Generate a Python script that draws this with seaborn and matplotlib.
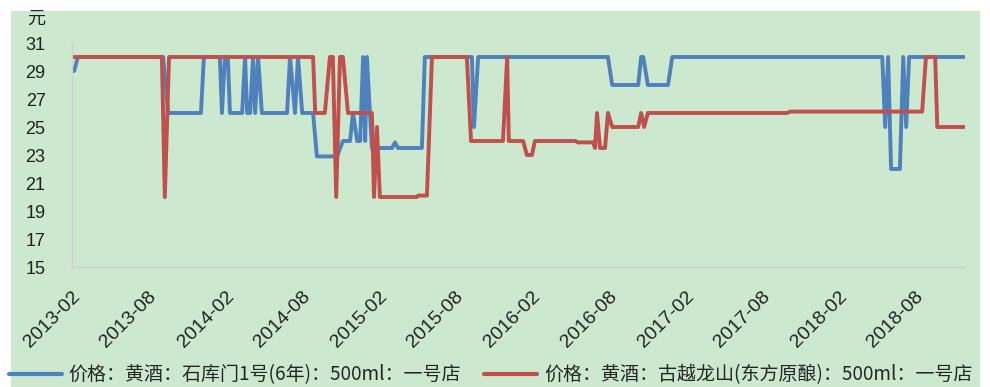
import matplotlib
matplotlib.use("Agg")
import matplotlib.pyplot as plt
import matplotlib.dates as mdates
from matplotlib.patches import Rectangle
from matplotlib.lines import Line2D
import pandas as pd
import seaborn as sns

# ---- data ----
blue_dates = ["2013-02-01", "2013-02-06", "2013-02-15", "2013-09-06", "2013-09-18", "2013-12-05",
              "2013-12-12", "2014-01-19", "2014-01-24", "2014-01-31", "2014-02-07", "2014-02-12",
              "2014-03-13", "2014-03-20", "2014-03-25", "2014-04-01", "2014-04-08", "2014-04-13",
              "2014-04-20", "2014-04-29", "2014-06-28", "2014-07-05", "2014-07-17", "2014-07-24",
              "2014-08-03", "2014-08-29", "2014-09-07", "2014-10-25", "2014-11-08", "2014-11-25",
              "2014-12-02", "2014-12-12", "2014-12-19", "2014-12-26", "2014-12-31", "2015-01-04",
              "2015-01-16", "2015-03-05", "2015-03-12", "2015-03-19", "2015-05-15", "2015-05-22",
              "2015-09-11", "2015-09-16", "2015-09-26", "2016-07-31", "2016-08-10", "2016-10-11",
              "2016-10-18", "2016-10-23", "2016-11-03", "2016-12-21", "2016-12-31", "2018-05-15",
              "2018-05-22", "2018-05-29", "2018-06-05", "2018-06-26", "2018-07-04", "2018-07-11",
              "2018-07-18", "2018-11-26"]
blue_values = [29, 29, 30, 30, 26, 26,
               30, 30, 26, 30, 30, 26,
               26, 30, 26, 26, 30, 26,
               30, 26, 26, 30, 26, 30,
               26, 26, 22.9, 22.9, 24, 24,
               26, 24, 24, 30, 24, 30,
               23.5, 23.5, 23.9, 23.5, 23.5, 30,
               30, 25, 30, 30, 28, 28,
               30, 30, 28, 28, 30, 30,
               25, 30, 22, 22, 30, 25,
               30, 30]

red_dates = ["2013-02-01", "2013-09-03", "2013-09-10", "2013-09-20", "2014-08-29", "2014-09-03",
             "2014-09-26", "2014-10-08", "2014-10-15", "2014-10-23", "2014-11-01", "2014-11-08",
             "2014-11-20", "2015-01-16", "2015-01-21", "2015-01-28", "2015-02-04", "2015-04-05",
             "2015-05-03", "2015-05-06", "2015-05-27", "2015-06-08", "2015-08-30", "2015-09-09",
             "2015-11-24", "2015-12-04", "2015-12-08", "2016-01-11", "2016-01-20", "2016-02-01",
             "2016-02-08", "2016-05-14", "2016-05-21", "2016-06-26", "2016-06-30", "2016-07-05",
             "2016-07-12", "2016-07-24", "2016-07-31", "2016-08-10", "2016-10-11", "2016-10-18",
             "2016-10-25", "2016-11-03", "2017-09-30", "2017-10-08", "2018-08-18", "2018-08-27",
             "2018-09-18", "2018-09-23", "2018-11-26"]
red_values = [30, 30, 20, 30, 30, 26,
              26, 30, 30, 20, 30, 30,
              26, 26, 20, 25, 20, 20,
              20, 20.1, 20.1, 30, 30, 24,
              24, 30, 24, 24, 23, 23,
              24, 24, 23.9, 23.9, 23.5, 26,
              23.5, 23.5, 26, 25, 25, 26,
              25, 26, 26, 26.1, 26.1, 30,
              30, 25, 25]

blue_name = "价格：黄酒：石库门1号(6年)：500ml：一号店"
red_name = "价格：黄酒：古越龙山(东方原酿)：500ml：一号店"
y_ticks = [15, 17, 19, 21, 23, 25, 27, 29, 31]
y_unit = "元"

BLUE = "#4F81BD"
RED = "#C0504D"
GREEN = "#CCE8CF"

sns.set_style("white")
plt.rcParams["font.family"] = ["Liberation Sans", "Noto Sans CJK SC", "DejaVu Sans"]

W, H = 990, 387
fig = plt.figure(figsize=(W / 100, H / 100), dpi=100)
fig.patch.set_facecolor("white")
fig.patches.append(Rectangle((11 / W, 0), 969 / W, (H - 11) / H, transform=fig.transFigure,
                             facecolor=GREEN, edgecolor="none", zorder=-10))

ax = fig.add_axes([72 / W, (H - 267) / H, (965 - 72) / W, (267 - 43) / H])
ax.set_facecolor("none")

df_b = pd.DataFrame({"date": pd.to_datetime(blue_dates), "value": blue_values})
df_r = pd.DataFrame({"date": pd.to_datetime(red_dates), "value": red_values})

sns.lineplot(data=df_b, x="date", y="value", ax=ax, color=BLUE, linewidth=2.8,
             estimator=None, legend=False)
sns.lineplot(data=df_r, x="date", y="value", ax=ax, color=RED, linewidth=2.8,
             estimator=None, legend=False)

ax.set_ylim(15, 31)
ax.set_yticks(y_ticks)
ax.set_xlim(pd.Timestamp("2013-02-01"), pd.Timestamp("2018-11-28"))
ax.xaxis.set_major_locator(mdates.MonthLocator(bymonth=[2, 8], bymonthday=1))
ax.xaxis.set_major_formatter(mdates.DateFormatter("%Y-%m"))
ax.set_xlabel("")
ax.set_ylabel("")

ax.tick_params(axis="y", length=0, pad=19, labelsize=13, labelcolor="#222222")
ax.tick_params(axis="x", length=0, pad=15, labelsize=14, labelcolor="#222222")
for lab in ax.get_xticklabels():
    lab.set_rotation(45)
    lab.set_ha("right")
    lab.set_va("top")
    lab.set_rotation_mode("anchor")

for s in ["top", "right"]:
    ax.spines[s].set_visible(False)
for s in ["left", "bottom"]:
    ax.spines[s].set_color("#D0D0D0")
    ax.spines[s].set_linewidth(1.0)

fig.text(36 / W, 1 - 19 / H, y_unit, ha="center", va="center", fontsize=13,
         family=["Noto Sans CJK SC"], color="#222222")

handles = [Line2D([], [], color=BLUE, linewidth=3), Line2D([], [], color=RED, linewidth=3)]
leg = fig.legend(handles, [blue_name, red_name], ncol=2, loc="center left",
                 bbox_to_anchor=(5 / W, 1 - 375 / H), frameon=False,
                 prop={"family": ["Noto Sans CJK SC"], "size": 13.7},
                 handlelength=2.8, handletextpad=0.35, columnspacing=1.2, borderaxespad=0,
                 borderpad=0.2)

fig.savefig("out.png", dpi=100, facecolor=fig.get_facecolor())
